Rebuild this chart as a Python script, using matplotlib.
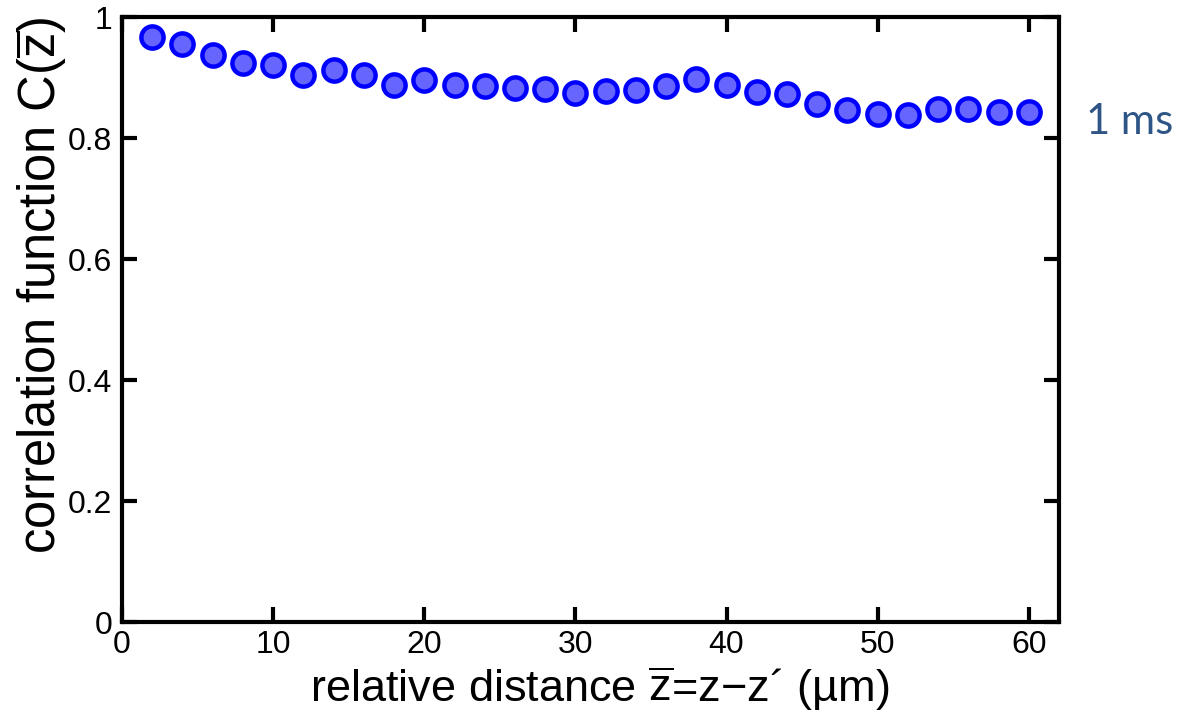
"""Correlation function vs relative distance (1 ms)."""
import matplotlib
matplotlib.use("Agg")
import matplotlib.pyplot as plt

plt.rcParams["font.family"] = ["Liberation Sans", "DejaVu Sans"]
plt.rcParams["mathtext.fontset"] = "custom"
plt.rcParams["mathtext.rm"] = "Liberation Sans"
plt.rcParams["mathtext.it"] = "Liberation Sans"

# data
distance = [2, 4, 6, 8, 10, 12, 14, 16, 18, 20, 22, 24, 26, 28, 30,
            32, 34, 36, 38, 40, 42, 44, 46, 48, 50, 52, 54, 56, 58, 60]
correlation = [0.967, 0.955, 0.937, 0.924, 0.921, 0.905, 0.912, 0.904, 0.888, 0.896,
               0.888, 0.887, 0.883, 0.882, 0.874, 0.878, 0.880, 0.886, 0.897, 0.888,
               0.876, 0.873, 0.857, 0.846, 0.840, 0.838, 0.848, 0.848, 0.843, 0.843]
x_ticks = [0, 10, 20, 30, 40, 50, 60]
y_ticks = [0, 0.2, 0.4, 0.6, 0.8, 1]
y_tick_labels = ["0", "0.2", "0.4", "0.6", "0.8", "1"]

fig = plt.figure(figsize=(11.8, 7.15), dpi=100)
ax = fig.add_axes([0.1034, 0.130, 0.7941, 0.846])

ax.plot(distance, correlation, linestyle="none", marker="o", markersize=16,
        markerfacecolor="#6666ff", markeredgecolor="#0000ff", markeredgewidth=3.2,
        clip_on=False, zorder=3)

ax.set_xlim(0, 62)
ax.set_ylim(0, 1)
ax.set_xticks(x_ticks)
ax.set_yticks(y_ticks)
ax.set_yticklabels(y_tick_labels)

for side in ax.spines.values():
    side.set_linewidth(3)
ax.tick_params(direction="in", length=11, width=3, labelsize=23,
               top=True, right=True)
ax.tick_params(axis="x", pad=6)
ax.tick_params(axis="y", pad=7)

ax.set_xlabel(r"relative distance $\mathrm{\overline{z}}$=z−z´ (µm)", fontsize=32.5)
ax.set_ylabel(r"correlation function C($\mathrm{\overline{z}}$)", fontsize=36.5)
ax.xaxis.set_label_coords(0.510, -0.070)
ax.yaxis.set_label_coords(-0.057, 0.557)

fig.text(0.920, 0.829, "1 ms", fontsize=30, color="#2f5587",
         family=["Lato", "DejaVu Sans"], ha="left", va="center")

fig.savefig("out.png", dpi=100)
